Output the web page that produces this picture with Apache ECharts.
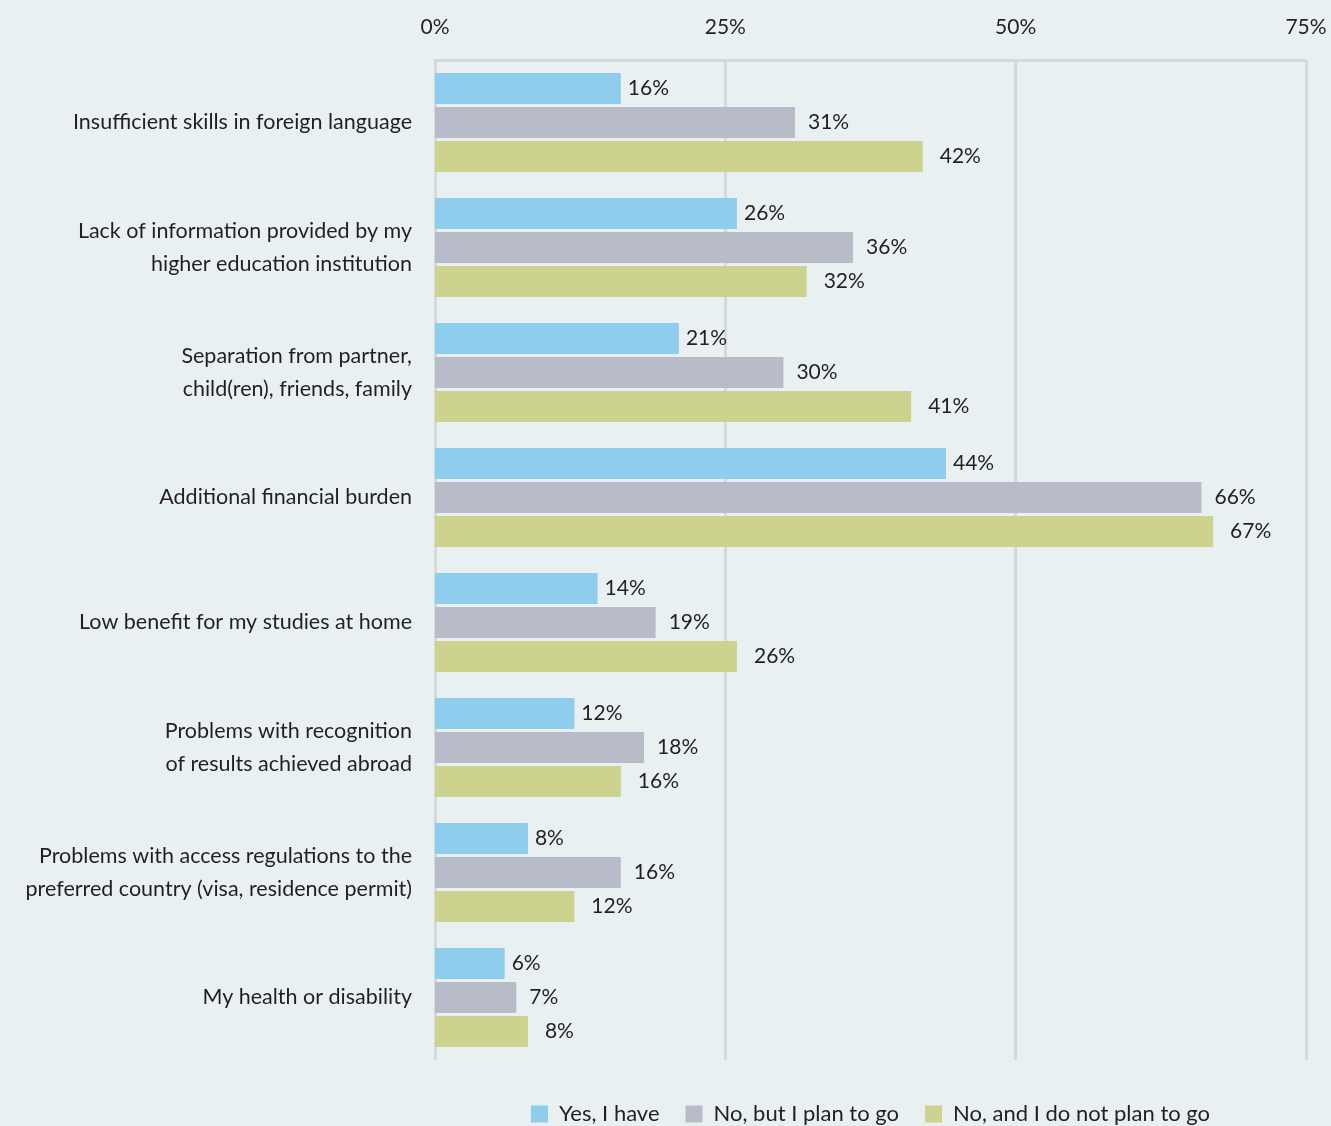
<!DOCTYPE html>
<html>
<head>
<meta charset="utf-8">
<script src="https://cdn.jsdelivr.net/npm/echarts@6/dist/echarts.min.js"></script>
<style>
  html, body { margin: 0; padding: 0; background: #e8f0f2; }
  #chart { width: 1331px; height: 1126px; }
</style>
</head>
<body>
<div id="chart"></div>
<script>
// categories, top to bottom
const categories = [
  'Insufficient skills in foreign language',
  'Lack of information provided by my\nhigher education institution',
  'Separation from partner,\nchild(ren), friends, family',
  'Additional financial burden',
  'Low benefit for my studies at home',
  'Problems with recognition\nof results achieved abroad',
  'Problems with access regulations to the\npreferred country (visa, residence permit)',
  'My health or disability'
];
const seriesNames = ['Yes, I have', 'No, but I plan to go', 'No, and I do not plan to go'];
const yesHave = [16, 26, 21, 44, 14, 12, 8, 6];
const planToGo = [31, 36, 30, 66, 19, 18, 16, 7];
const notPlan = [42, 32, 41, 67, 26, 16, 12, 8];
const xTicks = [0, 25, 50, 75];

const colors = ['#8ecdeb', '#b8bcc8', '#cdd28f'];
const textColor = '#231f20';
const font = 'Lato';

const chart = echarts.init(document.getElementById('chart'));

function barSeries(name, data, color, dist) {
  return {
    name: name,
    type: 'bar',
    data: data,
    barWidth: 31,
    barGap: '10%',
    itemStyle: {color: color},
    label: {
      show: true,
      position: 'right',
      distance: dist,
      formatter: '{c}%',
      color: textColor,
      fontFamily: font,
      fontSize: 21
    }
  };
}

chart.setOption({
  backgroundColor: '#e8f0f2',
  animation: false,
  grid: {left: 435, right: 25, top: 60, bottom: 66},
  legend: {
    left: 526,
    top: 1098,
    itemWidth: 17,
    itemHeight: 17,
    itemGap: 26,
    icon: 'rect',
    textStyle: {color: textColor, fontFamily: font, fontSize: 22, padding: [0, 0, 0, 6]},
    data: seriesNames
  },
  xAxis: {
    type: 'value',
    position: 'top',
    min: xTicks[0],
    max: xTicks[xTicks.length - 1],
    interval: 25,
    axisLine: {show: true, lineStyle: {color: '#d6d9da', width: 3}},
    axisTick: {show: false},
    axisLabel: {
      formatter: '{value}%',
      color: textColor,
      fontFamily: font,
      fontSize: 21,
      margin: 22
    },
    splitLine: {show: true, lineStyle: {color: '#d6d9da', width: 3}}
  },
  yAxis: {
    type: 'category',
    inverse: true,
    data: categories,
    axisLine: {show: false},
    axisTick: {show: false},
    axisLabel: {
      color: textColor,
      fontFamily: font,
      fontSize: 21.5,
      lineHeight: 33,
      margin: 23,
      align: 'right'
    }
  },
  series: [
    barSeries(seriesNames[0], yesHave, colors[0], 7),
    barSeries(seriesNames[1], planToGo, colors[1], 13),
    barSeries(seriesNames[2], notPlan, colors[2], 17)
  ]
});
</script>
</body>
</html>
